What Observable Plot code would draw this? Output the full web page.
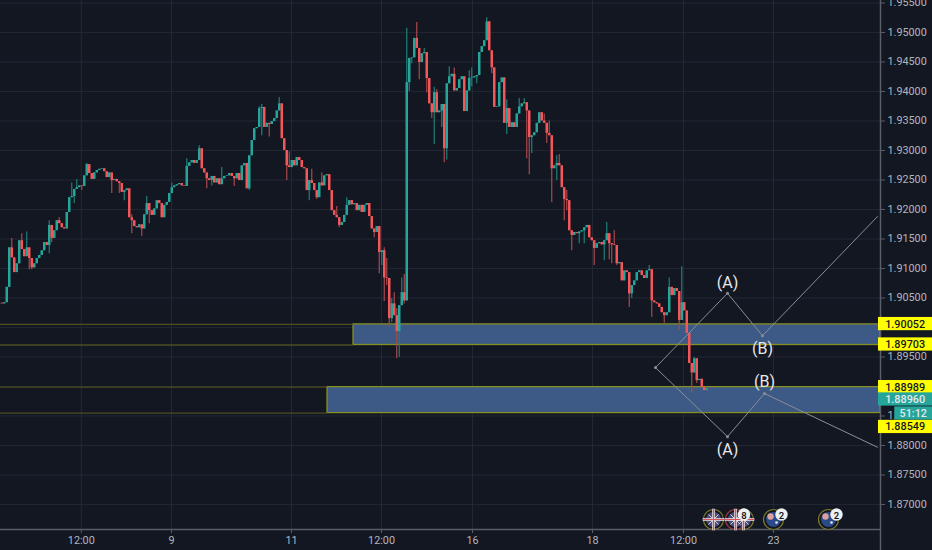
<!DOCTYPE html>
<html>
<head>
<meta charset="utf-8">
<style>html,body{margin:0;padding:0;background:#131722;overflow:hidden}svg{display:block}</style>
<script src="https://cdn.jsdelivr.net/npm/d3@7"></script>
<script src="https://cdn.jsdelivr.net/npm/@observablehq/plot@0.6"></script>
</head>
<body>
<div id="chart"></div>
<script>
const firstOpen = 1.9041;
const closes = [1.9040,1.9042,1.9068,1.9135,1.9118,1.9093,1.9108,1.9147,1.9132,1.9120,
1.9135,1.9117,1.9101,1.9108,1.9117,1.9122,1.9130,1.9144,1.9139,1.9173,
1.9151,1.9164,1.9181,1.9176,1.9169,1.9167,1.9195,1.9220,1.9222,1.9234,
1.9237,1.9240,1.9239,1.9257,1.9276,1.9261,1.9251,1.9262,1.9266,1.9268,
1.9269,1.9264,1.9254,1.9262,1.9249,1.9251,1.9247,1.9244,1.9229,1.9232,
1.9235,1.9186,1.9181,1.9171,1.9169,1.9174,1.9167,1.9191,1.9210,1.9198,
1.9190,1.9201,1.9215,1.9210,1.9186,1.9207,1.9212,1.9227,1.9237,1.9240,
1.9242,1.9244,1.9240,1.9239,1.9273,1.9279,1.9283,1.9278,1.9283,1.9303,
1.9269,1.9262,1.9252,1.9249,1.9256,1.9245,1.9252,1.9242,1.9252,1.9256,
1.9257,1.9261,1.9256,1.9252,1.9261,1.9249,1.9274,1.9278,1.9235,1.9291,
1.9317,1.9337,1.9339,1.9371,1.9373,1.9339,1.9346,1.9344,1.9349,1.9354,
1.9367,1.9379,1.9320,1.9300,1.9274,1.9271,1.9283,1.9274,1.9288,1.9283,
1.9271,1.9269,1.9232,1.9249,1.9244,1.9232,1.9220,1.9245,1.9240,1.9257,
1.9259,1.9232,1.9198,1.9190,1.9186,1.9173,1.9178,1.9190,1.9207,1.9215,
1.9208,1.9210,1.9198,1.9207,1.9195,1.9207,1.9210,1.9188,1.9167,1.9161,
1.9171,1.9127,1.9130,1.9084,1.9083,1.9015,1.9040,1.9020,1.8993,1.9037,
1.9059,1.9045,1.9415,1.9456,1.9457,1.9490,1.9473,1.9449,1.9464,1.9466,
1.9422,1.9379,1.9364,1.9398,1.9364,1.9367,1.9378,1.9303,1.9413,1.9425,
1.9429,1.9401,1.9405,1.9420,1.9425,1.9366,1.9401,1.9422,1.9423,1.9425,
1.9427,1.9466,1.9476,1.9486,1.9518,1.9469,1.9440,1.9373,1.9374,1.9415,
1.9423,1.9346,1.9371,1.9339,1.9347,1.9339,1.9362,1.9374,1.9379,1.9381,
1.9367,1.9322,1.9325,1.9330,1.9346,1.9364,1.9350,1.9346,1.9329,1.9325,
1.9269,1.9274,1.9278,1.9274,1.9237,1.9217,1.9215,1.9164,1.9156,1.9161,
1.9159,1.9162,1.9164,1.9169,1.9173,1.9152,1.9147,1.9134,1.9142,1.9144,
1.9140,1.9147,1.9159,1.9142,1.9140,1.9139,1.9108,1.9110,1.9079,1.9096,
1.9093,1.9057,1.9071,1.9079,1.9093,1.9096,1.9088,1.9083,1.9096,1.9098,
1.9045,1.9042,1.9040,1.9034,1.9025,1.9020,1.9025,1.9068,1.9054,1.9066,
1.9061,1.9012,1.9042,1.9028,1.8990,1.8939,1.8923,1.8947,1.8910,1.8912,
1.8898,1.8893,1.8896];
const wickHighs = [[4,1.9151],[8,1.9159],[10,1.9162],[19,1.9181],[23,1.9186],[28,1.9245],[30,1.9251],[34,1.9278],[52,1.9191],[58,1.9222],[68,1.9245],[74,1.9286],[79,1.9308],[88,1.9271],[103,1.9374],[104,1.9378],[111,1.9390],[115,1.9298],[124,1.9268],[128,1.9262],[134,1.9205],[138,1.9220],[153,1.9135],[154,1.9117],[156,1.9049],[157,1.9059],[158,1.9032],[160,1.9084],[161,1.9090],[162,1.9507],[166,1.9517],[169,1.9473],[173,1.9407],[174,1.9403],[179,1.9442],[181,1.9440],[187,1.9435],[188,1.9440],[194,1.9525],[202,1.9386],[207,1.9388],[209,1.9388],[217,1.9362],[219,1.9350],[222,1.9291],[223,1.9293],[226,1.9232],[227,1.9190],[242,1.9178],[245,1.9164],[259,1.9105],[260,1.9054],[267,1.9084],[272,1.9103],[277,1.8949],[280,1.8913]];
const wickLows = [[3,1.9091],[11,1.9098],[12,1.9098],[19,1.9125],[20,1.9144],[29,1.9210],[32,1.9232],[44,1.9227],[47,1.9227],[49,1.9215],[52,1.9159],[56,1.9154],[59,1.9176],[82,1.9235],[84,1.9240],[93,1.9239],[99,1.9232],[104,1.9325],[107,1.9323],[114,1.9249],[123,1.9215],[126,1.9217],[135,1.9169],[149,1.9152],[151,1.9091],[152,1.9105],[153,1.9044],[154,1.9071],[155,1.9001],[156,1.9008],[158,1.8947],[159,1.8949],[161,1.9040],[163,1.9400],[164,1.9447],[167,1.9420],[170,1.9398],[172,1.9354],[173,1.9310],[176,1.9339],[177,1.9279],[178,1.9284],[188,1.9408],[190,1.9413],[196,1.9430],[202,1.9327],[210,1.9286],[211,1.9259],[212,1.9295],[218,1.9312],[220,1.9212],[222,1.9249],[225,1.9181],[226,1.9198],[228,1.9130],[231,1.9142],[233,1.9142],[237,1.9105],[241,1.9113],[243,1.9115],[244,1.9108],[246,1.9105],[251,1.9034],[252,1.9049],[260,1.9017],[265,1.9007],[271,1.8995],[276,1.8889],[278,1.8905]];

const gridPrices = [1.955,1.95,1.945,1.94,1.935,1.93,1.925,1.92,1.915,1.91,1.905,1.9,1.895,1.89,1.885,1.88,1.875,1.87];
const labelledPrices = [1.955,1.95,1.945,1.94,1.935,1.93,1.925,1.92,1.915,1.91,1.905,1.895,1.885,1.88,1.875,1.87];
const clippedPrice = 1.885;
const timeTicks = [31.8,67.9,115.9,151.9,188.3,236.3,272.7,308.7];
const timeLabels = ["12:00","9","11","12:00","16","18","12:00","23"];

const zones = [{start:140.7,top:1.90052,bottom:1.89703},{start:130.3,top:1.88989,bottom:1.88549}];
const upperWave = [[261.5,1.8932],[290.3,1.9058],[304.3,1.8986],[350.3,1.9188]];
const lowerWave = [[261.5,1.8932],[290.3,1.8815],[305.1,1.8888],[350.3,1.8797]];
const waveLabels = [
  {x:290.3,y:1.9075,t:"(A)"},{x:304.3,y:1.8963,t:"(B)"},
  {x:305.1,y:1.8908,t:"(B)"},{x:290.3,y:1.8792,t:"(A)"}
];
const tags = [
  {y:1.90058,t:"1.90052",bg:"#ffff00",fg:"#131722",x1:350.7},
  {y:1.89712,t:"1.89703",bg:"#ffff00",fg:"#131722",x1:350.7},
  {y:1.88989,t:"1.88989",bg:"#ffff00",fg:"#131722",x1:350.7},
  {y:1.8878,t:"1.88960",bg:"#26a69a",fg:"#e6e9ee",x1:350.7},
  {y:1.88542,t:"51:12",bg:"#26a69a",fg:"#e6e9ee",x1:357.2},
  {y:1.88314,t:"1.88549",bg:"#ffff00",fg:"#131722",x1:350.7}
];
const ukFlagRed = [293.5];
const ukFlags = [284.7,296.7,293.5];
const auFlags = [308.7,330.7];
const badges = [{x:296.9,t:"8"},{x:311.9,t:"2"},{x:333.9,t:"2"}];

const highMap = new Map(wickHighs), lowMap = new Map(wickLows);
const candles = closes.map((c,i)=>{
  const o = i ? closes[i-1] : firstOpen;
  return {i,o,c,h:Math.max(o,c,highMap.get(i)??0),l:Math.min(o,c,lowMap.get(i)??9)};
});
const ups = candles.filter(d=>d.c>=d.o), downs = candles.filter(d=>d.c<d.o);
const UP="#26a69a", DOWN="#f4575a", UPW="#1f7f78", DOWNW="#a8484d";
const GRID="#232833", AXIS="#5a5e69", TXT="#b2b5be", OLIVE="#858f24", OLIVEDIM="#4d4f20";
const xLeft=-0.5, xRight=351.5, yBottom=1.86576, yFloor=1.8622;
const timeMap = new Map(timeTicks.map((d,i)=>[d,timeLabels[i]]));
const flagOpts = {x:d=>d,frameAnchor:"bottom",dy:-10};

const chart = Plot.plot({
  width:932,height:550,marginLeft:0,marginRight:52,marginTop:0,marginBottom:21,
  style:{background:"#131722",fontFamily:"Roboto, sans-serif",color:TXT},
  x:{type:"linear",domain:[xLeft,xRight],label:null},
  y:{type:"linear",domain:[yBottom,1.95542],label:null},
  marks:[
    Plot.ruleY(gridPrices,{stroke:GRID,strokeWidth:1}),
    Plot.ruleX(timeTicks,{stroke:GRID,strokeWidth:1}),
    Plot.axisY({anchor:"right",ticks:labelledPrices,tickFormat:d=>d===clippedPrice?"1.":d3.format(".5f")(d),tickSize:4,tickPadding:3,fontSize:10.8,stroke:AXIS,fill:TXT,label:null}),
    Plot.axisX({ticks:timeTicks,tickFormat:d=>timeMap.get(d),tickSize:4,tickPadding:3,fontSize:10.8,stroke:AXIS,fill:TXT,label:null}),
    // zones
    Plot.rect(zones,{x1:"start",x2:xRight,y1:"bottom",y2:"top",fill:"#3f5d8c",fillOpacity:0.95,stroke:OLIVE,strokeWidth:1.3}),
    Plot.ruleY(zones,{x1:xLeft,x2:"start",y:"top",stroke:OLIVEDIM,strokeWidth:1.3}),
    Plot.ruleY(zones,{x1:xLeft,x2:"start",y:"bottom",stroke:OLIVEDIM,strokeWidth:1.3}),
    // candles
    Plot.ruleX(ups,{x:"i",y1:"l",y2:"h",stroke:UPW,strokeWidth:1.2}),
    Plot.ruleX(downs,{x:"i",y1:"l",y2:"h",stroke:DOWNW,strokeWidth:1.2}),
    Plot.ruleX(ups,{x:"i",y1:"o",y2:"c",stroke:UP,strokeWidth:2.5}),
    Plot.ruleX(downs,{x:"i",y1:"o",y2:"c",stroke:DOWN,strokeWidth:2.5}),
    // waves
    Plot.line(upperWave,{x:"0",y:"1",stroke:"#8b8e96",strokeWidth:1}),
    Plot.line(lowerWave,{x:"0",y:"1",stroke:"#8b8e96",strokeWidth:1}),
    Plot.dot([...upperWave.slice(0,3),...lowerWave.slice(1,3)],{x:"0",y:"1",r:1.5,fill:"#8b8e96"}),
    Plot.text(waveLabels,{x:"x",y:"y",text:"t",fill:"#e8e8e8",fontSize:16,fontWeight:400}),
    // frame
    Plot.ruleX([xRight],{y1:yFloor,y2:1.95542,stroke:AXIS,strokeWidth:1.5}),
    Plot.ruleY([yBottom],{x1:xLeft,x2:xRight,stroke:AXIS,strokeWidth:1.5}),
    // price tags
    Plot.rect(tags,{x1:"x1",x2:372.6,y1:d=>d.y-0.00112,y2:d=>d.y+0.00112,fill:"bg"}),
    Plot.text(tags,{x:d=>(d.x1+372)/2,y:"y",text:"t",fill:"fg",fontSize:10.8,fontWeight:500}),
    // events
    Plot.dot(ukFlags,{...flagOpts,r:10,fill:"#131722",stroke:d=>ukFlagRed.includes(d)?"#a63a3a":"#7d7a2a",strokeWidth:1.2}),
    Plot.dot(ukFlags,{...flagOpts,r:7.5,fill:"#4a4f80"}),
    Plot.dot(ukFlags,{...flagOpts,r:4.6,symbol:"times",stroke:"#e8d8d8",strokeWidth:0.9}),
    Plot.dot(ukFlags,{...flagOpts,r:7,symbol:"plus",stroke:"#f2e6e6",strokeWidth:2.6}),
    Plot.dot(ukFlags,{...flagOpts,r:7,symbol:"plus",stroke:"#d8505a",strokeWidth:1.2}),
    Plot.dot(auFlags,{...flagOpts,r:10,fill:"#131722",stroke:"#7d7a2a",strokeWidth:1.2}),
    Plot.dot(auFlags,{...flagOpts,r:7.5,fill:"#2b4a8a"}),
    Plot.dot(auFlags,{...flagOpts,dy:-13,dx:-3,r:3.2,fill:"#d9a0a0"}),
    Plot.dot(auFlags,{...flagOpts,dy:-7,dx:3,r:1.3,fill:"#e8e8e8"}),
    Plot.dot(badges,{x:"x",frameAnchor:"bottom",dy:-15,r:6.2,fill:"#eceff2"}),
    Plot.text(badges,{x:"x",frameAnchor:"bottom",dy:-11,text:"t",fill:"#131722",fontSize:9.5,fontWeight:600})
  ]
});
document.getElementById("chart").appendChild(chart);
</script>
</body>
</html>
